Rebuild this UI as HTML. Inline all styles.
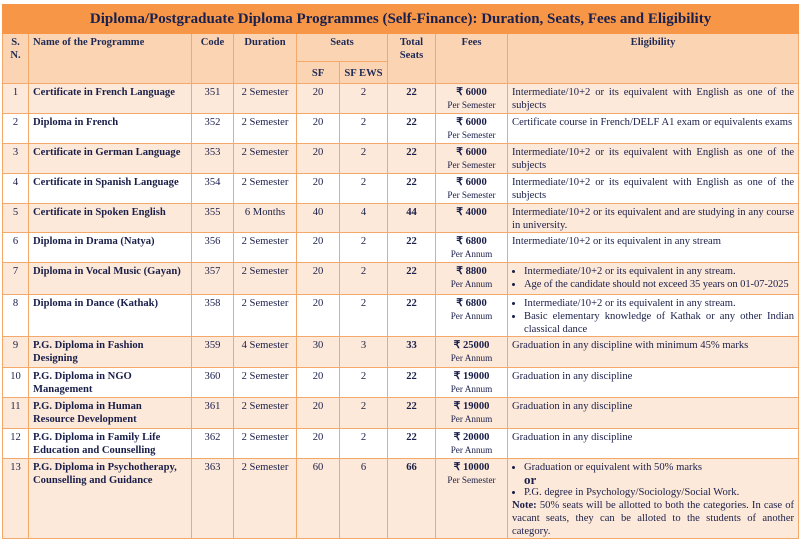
<!DOCTYPE html>
<html><head><meta charset="utf-8"><style>
body{margin:0;background:#fff;width:801px;height:539px;overflow:hidden;font-family:"Liberation Serif",serif;color:#1a1f4a}
table{position:absolute;left:2px;top:4px;border-collapse:collapse;table-layout:fixed;width:796px}
td,th{border:1px solid #f4a86a;padding:2px 4px 0 4px;vertical-align:top;font-size:10.6px;line-height:13px;overflow:hidden}
th{font-weight:bold;color:#1f2a55;text-align:center;background:#fbd4b4}
.t{background:#f79646;font-size:15px;color:#17204f;text-align:center;vertical-align:middle;padding:0;border-color:#f79646}
.o{background:#fde9d9}
.c{text-align:center}
.b{font-weight:bold}
.j{text-align:justify}
.s{font-size:9.2px}
ul{margin:0;padding-left:12px}
li{margin:0}
</style></head><body>
<table>
<colgroup><col style="width:26px"><col style="width:163px"><col style="width:42px"><col style="width:63px"><col style="width:43px"><col style="width:48px"><col style="width:48px"><col style="width:72px"><col style="width:291px"></colgroup>
<tr style="height:29px"><td colspan="9" class="t b">Diploma/Postgraduate Diploma Programmes (Self-Finance): Duration, Seats, Fees and Eligibility</td></tr>
<tr style="height:28px"><th rowspan="2">S.<br>N.</th><th rowspan="2" style="text-align:left">Name of the Programme</th><th rowspan="2">Code</th><th rowspan="2">Duration</th><th colspan="2">Seats</th><th rowspan="2">Total Seats</th><th rowspan="2">Fees</th><th rowspan="2">Eligibility</th></tr>
<tr style="height:22px"><th style="vertical-align:middle">SF</th><th style="vertical-align:middle">SF EWS</th></tr>
<tr class="o" style="height:30px"><td class="c">1</td><td class="b">Certificate in French Language</td><td class="c">351</td><td class="c">2 Semester</td><td class="c">20</td><td class="c">2</td><td class="c b">22</td><td class="c"><b>₹ 6000</b><br><span class="s">Per Semester</span></td><td class="j">Intermediate/10+2 or its equivalent with English as one of the subjects</td></tr>
<tr style="height:30px"><td class="c">2</td><td class="b">Diploma in French</td><td class="c">352</td><td class="c">2 Semester</td><td class="c">20</td><td class="c">2</td><td class="c b">22</td><td class="c"><b>₹ 6000</b><br><span class="s">Per Semester</span></td><td style="white-space:nowrap">Certificate course in French/DELF A1 exam or equivalents exams</td></tr>
<tr class="o" style="height:30px"><td class="c">3</td><td class="b">Certificate in German Language</td><td class="c">353</td><td class="c">2 Semester</td><td class="c">20</td><td class="c">2</td><td class="c b">22</td><td class="c"><b>₹ 6000</b><br><span class="s">Per Semester</span></td><td class="j">Intermediate/10+2 or its equivalent with English as one of the subjects</td></tr>
<tr style="height:30px"><td class="c">4</td><td class="b">Certificate in Spanish Language</td><td class="c">354</td><td class="c">2 Semester</td><td class="c">20</td><td class="c">2</td><td class="c b">22</td><td class="c"><b>₹ 6000</b><br><span class="s">Per Semester</span></td><td class="j">Intermediate/10+2 or its equivalent with English as one of the subjects</td></tr>
<tr class="o" style="height:29px"><td class="c">5</td><td class="b">Certificate in Spoken English</td><td class="c">355</td><td class="c">6 Months</td><td class="c">40</td><td class="c">4</td><td class="c b">44</td><td class="c"><b>₹ 4000</b></td><td class="j">Intermediate/10+2 or its equivalent and are studying in any course in university.</td></tr>
<tr style="height:30px"><td class="c">6</td><td class="b">Diploma in Drama (Natya)</td><td class="c">356</td><td class="c">2 Semester</td><td class="c">20</td><td class="c">2</td><td class="c b">22</td><td class="c"><b>₹ 6800</b><br><span class="s">Per Annum</span></td><td>Intermediate/10+2 or its equivalent in any stream</td></tr>
<tr class="o" style="height:32px"><td class="c">7</td><td class="b">Diploma in Vocal Music (Gayan)</td><td class="c">357</td><td class="c">2 Semester</td><td class="c">20</td><td class="c">2</td><td class="c b">22</td><td class="c"><b>₹ 8800</b><br><span class="s">Per Annum</span></td><td><ul><li>Intermediate/10+2 or its equivalent in any stream.</li><li style="white-space:nowrap;letter-spacing:-0.1px">Age of the candidate should not exceed 35 years on 01-07-2025</li></ul></td></tr>
<tr style="height:41px"><td class="c">8</td><td class="b">Diploma in Dance (Kathak)</td><td class="c">358</td><td class="c">2 Semester</td><td class="c">20</td><td class="c">2</td><td class="c b">22</td><td class="c"><b>₹ 6800</b><br><span class="s">Per Annum</span></td><td class="j"><ul><li>Intermediate/10+2 or its equivalent in any stream.</li><li>Basic elementary knowledge of Kathak or any other Indian classical dance</li></ul></td></tr>
<tr class="o" style="height:31px"><td class="c">9</td><td class="b">P.G. Diploma in Fashion<br>Designing</td><td class="c">359</td><td class="c">4 Semester</td><td class="c">30</td><td class="c">3</td><td class="c b">33</td><td class="c"><b>₹ 25000</b><br><span class="s">Per Annum</span></td><td>Graduation in any discipline with minimum 45% marks</td></tr>
<tr style="height:30px"><td class="c">10</td><td class="b">P.G. Diploma in NGO<br>Management</td><td class="c">360</td><td class="c">2 Semester</td><td class="c">20</td><td class="c">2</td><td class="c b">22</td><td class="c"><b>₹ 19000</b><br><span class="s">Per Annum</span></td><td>Graduation in any discipline</td></tr>
<tr class="o" style="height:31px"><td class="c">11</td><td class="b">P.G. Diploma in Human<br>Resource Development</td><td class="c">361</td><td class="c">2 Semester</td><td class="c">20</td><td class="c">2</td><td class="c b">22</td><td class="c"><b>₹ 19000</b><br><span class="s">Per Annum</span></td><td>Graduation in any discipline</td></tr>
<tr style="height:30px"><td class="c">12</td><td class="b">P.G. Diploma in Family Life<br>Education and Counselling</td><td class="c">362</td><td class="c">2 Semester</td><td class="c">20</td><td class="c">2</td><td class="c b">22</td><td class="c"><b>₹ 20000</b><br><span class="s">Per Annum</span></td><td>Graduation in any discipline</td></tr>
<tr class="o" style="height:79px"><td class="c">13</td><td class="b">P.G. Diploma in Psychotherapy, Counselling and Guidance</td><td class="c">363</td><td class="c">2 Semester</td><td class="c">60</td><td class="c">6</td><td class="c b">66</td><td class="c"><b>₹ 10000</b><br><span class="s">Per Semester</span></td><td class="j"><ul><li>Graduation or equivalent with 50% marks</li></ul><div class="b" style="font-size:13px;line-height:12px;padding-left:12px">or</div><ul><li>P.G. degree in Psychology/Sociology/Social Work.</li></ul><b>Note:</b> 50% seats will be allotted to both the categories. In case of vacant seats, they can be alloted to the students of another category.</td></tr>
</table>
</body></html>
